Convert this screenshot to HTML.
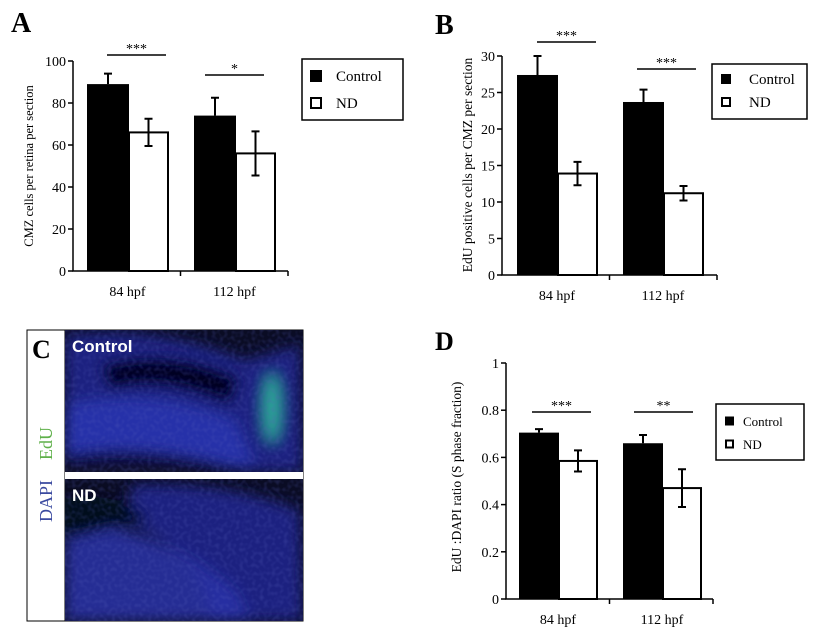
<!DOCTYPE html>
<html><head><meta charset="utf-8"><style>
html,body{margin:0;padding:0;background:#fff}
svg{display:block}
text{font-family:"Liberation Serif",serif}
</style></head><body>
<svg id="fig" width="839" height="638" viewBox="0 0 839 638" xmlns="http://www.w3.org/2000/svg">
<defs>
<filter id="blur6"><feGaussianBlur stdDeviation="7"/></filter>
<filter id="tex"><feTurbulence type="fractalNoise" baseFrequency="0.25" numOctaves="1" seed="3"/><feColorMatrix type="matrix" values="0 0 0 0 0.1  0 0 0 0 0.12  0 0 0 0 0.5  0 0 0 1.2 -0.5"/></filter>
<clipPath id="clipTop"><rect x="65" y="330" width="238" height="142"/></clipPath>
<clipPath id="clipBot"><rect x="65" y="479" width="238" height="142"/></clipPath>
</defs>
<g id="panelA"></g>
<g id="panelB"></g>
<g id="panelD"></g>
<g id="panelC">
  <rect x="27" y="330" width="276" height="291" fill="#fff" stroke="#000" stroke-width="1"/>
  <line x1="65" y1="330" x2="65" y2="621" stroke="#000"/>
  <text x="32" y="358" font-size="26" font-weight="bold">C</text>
  <text transform="translate(52,460) rotate(-90)" font-size="18" fill="#5fb04a">EdU</text>
  <text transform="translate(52,522) rotate(-90)" font-size="18" fill="#3b4aa0">DAPI</text>
  <g clip-path="url(#clipTop)">
    <rect x="65" y="330" width="238" height="142" fill="#0a0c24"/>
    <g filter="url(#blur6)">
      <path d="M65,335 Q160,325 245,360 L300,345 L303,472 L65,472 Z" fill="#1c2690" opacity="0.85"/>
      <path d="M100,365 Q170,345 240,378 L230,405 Q160,375 110,390 Z" fill="#04061a"/>
      <path d="M65,405 Q150,385 235,420 L255,465 L65,465 Z" fill="#2a36b4" opacity="0.8"/>
      <path d="M65,455 Q150,440 250,472 L65,472Z" fill="#070920" opacity="0.8"/>
      <ellipse cx="272" cy="408" rx="8" ry="34" fill="#30c0a0" opacity="0.9"/>
    </g>
    <rect x="65" y="330" width="238" height="142" filter="url(#tex)" opacity="0.5"/>
  </g>
  <rect x="65" y="472" width="238" height="7" fill="#fff"/>
  <g clip-path="url(#clipBot)">
    <rect x="65" y="479" width="238" height="142" fill="#0a0c24"/>
    <g filter="url(#blur6)">
      <path d="M130,485 Q220,480 300,510 L303,621 L210,621 Q215,560 130,525 Z" fill="#1c2690" opacity="0.85"/>
      <path d="M65,525 Q150,520 235,590 L250,621 L65,621 Z" fill="#2832a8" opacity="0.85"/>
      <path d="M65,498 Q120,490 150,520 L65,540Z" fill="#05071c"/>
    </g>
    <rect x="65" y="479" width="238" height="142" filter="url(#tex)" opacity="0.5"/>
  </g>
  <text x="72" y="352" font-size="17" font-weight="bold" fill="#fff" style="font-family:'Liberation Sans',sans-serif">Control</text>
  <text x="72" y="501" font-size="17" font-weight="bold" fill="#fff" style="font-family:'Liberation Sans',sans-serif">ND</text>
</g>
</svg>
<script>
// Panel A data
const catsA = ["84 hpf","112 hpf"];
const ctrlA = [89, 74];
const ctrlErrA = [5, 8.5];
const ndA = [66, 56];
const ndErrA = [6.5, 10.5];
const ticksA = [0,20,40,60,80,100];
const sigA = ["***","*"];
// Panel B data
const catsB = ["84 hpf","112 hpf"];
const ctrlB = [27.4, 23.7];
const ctrlErrB = [2.6, 1.7];
const ndB = [13.9, 11.2];
const ndErrB = [1.6, 1.0];
const ticksB = [0,5,10,15,20,25,30];
const sigB = ["***","***"];
// Panel D data
const catsD = ["84 hpf","112 hpf"];
const ctrlD = [0.705, 0.66];
const ctrlErrD = [0.015, 0.035];
const ndD = [0.585, 0.47];
const ndErrD = [0.045, 0.08];
const ticksD = ["0","0.2","0.4","0.6","0.8","1"];
const sigD = ["***","**"];

const NS="http://www.w3.org/2000/svg";
function mk(parent,tag,attrs,txt){const e=document.createElementNS(NS,tag);for(const k in attrs)e.setAttribute(k,attrs[k]);if(txt!==undefined)e.textContent=txt;parent.appendChild(e);return e;}

function drawPanel(g,cfg){
  const {x0,x1,y0,yTop,max,ticks,cats,ctrl,ctrlErr,nd,ndErr,sig,sigY,groupL,barW,ndW,sigX,ylabel,ylx,yly,label,lx,ly,lfs,leg,tfs,sw} = cfg;
  const ys=v=>y0-(v/max)*(y0-yTop);
  const lab=mk(g,'text',{x:lx,y:ly,'font-size':lfs,'font-weight':'bold'},label);
  
  
  for(let i=0;i<cats.length;i++){
    const xl=groupL[i];
    const cb=mk(g,'rect',{x:xl,y:ys(ctrl[i]),width:barW,height:y0-ys(ctrl[i]),fill:'#000'});
    
    
    const cx=xl+barW/2;
    const ce=mk(g,'path',{d:`M${cx},${ys(ctrl[i])} V${ys(ctrl[i]+ctrlErr[i])} M${cx-4},${ys(ctrl[i]+ctrlErr[i])} H${cx+4}`,stroke:'#000','stroke-width':2,fill:'none'});
    
    
    const nx=xl+barW;
    const nb=mk(g,'rect',{x:nx,y:ys(nd[i]),width:ndW,height:y0-ys(nd[i]),fill:'#fff',stroke:'#000','stroke-width':2});
    
    
    const ncx=nx+ndW/2;
    const hi=ys(nd[i]+ndErr[i]),lo=ys(nd[i]-ndErr[i]);
    const ne=mk(g,'path',{d:`M${ncx},${hi} V${lo} M${ncx-4},${hi} H${ncx+4} M${ncx-4},${lo} H${ncx+4}`,stroke:'#000','stroke-width':2,fill:'none'});
    
    
    const sl=mk(g,'line',{x1:sigX[i][0],x2:sigX[i][1],y1:sigY[i],y2:sigY[i],stroke:'#000','stroke-width':1.5});
    
    
    const st=mk(g,'text',{x:(sigX[i][0]+sigX[i][1])/2,y:sigY[i]-2,'font-size':14,'text-anchor':'middle'},sig[i]);
    
    
    const xt=mk(g,'text',{x:(xl+nx+ndW)/2,y:y0+25,'font-size':tfs,'text-anchor':'middle'},cats[i]);
    
    
  }
  const ax=mk(g,'path',{d:`M${x0},${yTop} V${y0} H${x1} M${x1},${y0} V${y0+5} M${(x0+x1)/2},${y0} V${y0+5}`,stroke:'#000','stroke-width':1.5,fill:'none'});
  
  
  ticks.forEach(t=>{
    const y=ys(parseFloat(t));
    const tk=mk(g,'line',{x1:x0-5,x2:x0,y1:y,y2:y,stroke:'#000','stroke-width':1.5});
    
    
    const tl=mk(g,'text',{x:x0-7,y:y+5,'font-size':tfs,'text-anchor':'end'},String(t));
    
    
  });
  const yl=mk(g,'text',{transform:`translate(${ylx},${yly}) rotate(-90)`,'font-size':cfg.ylfs,'text-anchor':'middle'},ylabel);
  
  
  const lg=mk(g,'g',{});
  
  
  mk(lg,'rect',{x:leg.x,y:leg.y,width:leg.w,height:leg.h,fill:'#fff',stroke:'#000','stroke-width':1.5});
  const e1=mk(lg,'rect',{x:leg.sx,y:leg.r1-sw/2,width:sw,height:sw,fill:'#000'});
  
  
  const t1=mk(lg,'text',{x:leg.tx,y:leg.r1+5,'font-size':leg.fs},'Control');
  
  
  const e2=mk(lg,'rect',{x:leg.sx+1,y:leg.r2-sw/2+1,width:sw-2,height:sw-2,fill:'#fff',stroke:'#000','stroke-width':2});
  
  
  const t2=mk(lg,'text',{x:leg.tx,y:leg.r2+5,'font-size':leg.fs},'ND');
  
  
}

drawPanel(document.getElementById('panelA'),{x0:73,x1:288,y0:271,yTop:61,max:100,ticks:ticksA,cats:catsA,ctrl:ctrlA,ctrlErr:ctrlErrA,nd:ndA,ndErr:ndErrA,sig:sigA,sigY:[55,75],groupL:[87,194],barW:42,ndW:39,sigX:[[107,166],[205,264]],ylabel:'CMZ cells per retina per section',ylx:33,yly:166,ylfs:12.5,label:'A',lx:11,ly:32,lfs:28,tfs:14,sw:12,
 leg:{x:302,y:59,w:101,h:61,sx:310,tx:336,r1:76,r2:103,fs:15}});
drawPanel(document.getElementById('panelB'),{x0:502,x1:717,y0:275,yTop:56,max:30,ticks:ticksB,cats:catsB,ctrl:ctrlB,ctrlErr:ctrlErrB,nd:ndB,ndErr:ndErrB,sig:sigB,sigY:[42,69],groupL:[517,623],barW:41,ndW:39,sigX:[[537,596],[637,696]],ylabel:'EdU positive cells  per CMZ per section',ylx:472,yly:165,ylfs:13.5,label:'B',lx:435,ly:34,lfs:28,tfs:14,sw:10,
 leg:{x:712,y:64,w:95,h:55,sx:721,tx:749,r1:79,r2:102,fs:15}});
drawPanel(document.getElementById('panelD'),{x0:506,x1:713,y0:599,yTop:363,max:1,ticks:ticksD,cats:catsD,ctrl:ctrlD,ctrlErr:ctrlErrD,nd:ndD,ndErr:ndErrD,sig:sigD,sigY:[412,412],groupL:[519,623],barW:40,ndW:38,sigX:[[532,591],[634,693]],ylabel:'EdU :DAPI ratio (S phase fraction)',ylx:461,yly:477,ylfs:13.5,label:'D',lx:435,ly:350,lfs:26,tfs:14,sw:9,
 leg:{x:716,y:404,w:88,h:56,sx:725,tx:743,r1:421,r2:444,fs:13}});
</script>
</body></html>
